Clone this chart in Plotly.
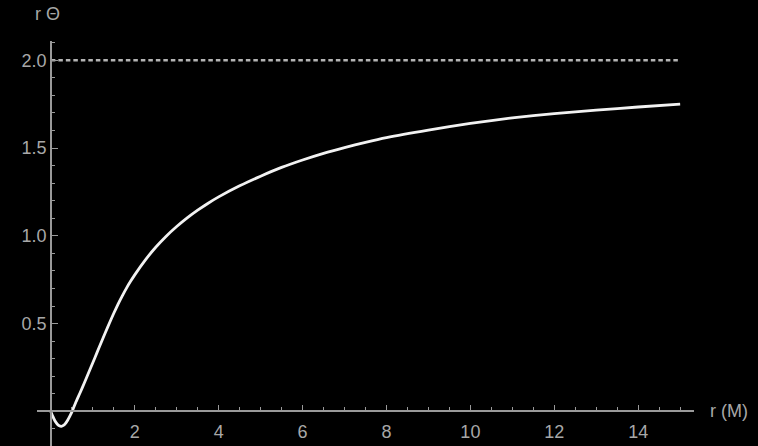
import plotly.graph_objects as go

# r Θ versus r (in units of M)
r_vals = [0.0, 0.05, 0.1, 0.15, 0.2, 0.25, 0.3, 0.35, 0.4, 0.45, 0.5,
          0.6, 0.7, 0.8, 0.9, 1.0, 1.1, 1.2, 1.3, 1.4, 1.5, 1.6, 1.7, 1.8,
          1.9, 2.0, 2.25, 2.5, 2.75, 3.0, 3.25, 3.5, 3.75, 4.0, 4.5, 5.0,
          5.5, 6.0, 6.5, 7.0, 7.5, 8.0, 9.0, 10.0, 11.0, 12.0, 13.0, 14.0,
          15.0]
theta_vals = [0.0, -0.03, -0.055, -0.072, -0.082, -0.085, -0.08, -0.068,
              -0.05, -0.028, -0.004, 0.055, 0.108, 0.163, 0.22, 0.277, 0.335,
              0.393, 0.45, 0.505, 0.559, 0.61, 0.657, 0.701, 0.741, 0.778,
              0.862, 0.935, 0.998, 1.053, 1.102, 1.146, 1.186, 1.222, 1.285,
              1.34, 1.39, 1.432, 1.47, 1.503, 1.533, 1.56, 1.603, 1.641,
              1.672, 1.696, 1.716, 1.734, 1.75]

# horizontal asymptote
asym_r = [0.0, 15.0]
asym_val = [2.0, 2.0]

x_ticks = [2, 4, 6, 8, 10, 12, 14]
y_ticks = [0.5, 1.0, 1.5, 2.0]
y_tick_text = ["0.5", "1.0", "1.5", "2.0"]

x_range = [-0.33, 15.33]
y_range = [-0.197, 2.11]

axis_color = "#9a9a9a"
label_color = "#a8a8a8"
font_family = "Liberation Sans, Arial, sans-serif"
font_size = 18

fig = go.Figure()

fig.add_trace(go.Scatter(
    x=asym_r, y=asym_val, mode="lines",
    line=dict(color="#b4b4b4", width=2.6, dash="4.5px,3px"),
    hoverinfo="skip", showlegend=False,
))

fig.add_trace(go.Scatter(
    x=r_vals, y=theta_vals, mode="lines",
    line=dict(color="#f2f2f2", width=2.8, shape="spline", smoothing=0.6),
    showlegend=False,
))

x_pos = (0 - y_range[0]) / (y_range[1] - y_range[0])
y_pos = (0 - x_range[0]) / (x_range[1] - x_range[0])

fig.update_layout(
    width=758, height=446,
    margin=dict(l=37, r=64, t=41, b=0),
    paper_bgcolor="black", plot_bgcolor="black",
    font=dict(family=font_family, size=font_size, color=label_color),
    xaxis=dict(
        range=x_range, anchor="free", position=x_pos,
        showgrid=False, zeroline=False,
        showline=True, linecolor=axis_color, linewidth=1.5,
        tickmode="array", tickvals=x_ticks, ticktext=[str(v) for v in x_ticks],
        ticks="inside", ticklen=6, tickwidth=1.2, tickcolor=axis_color,
        ticklabelstandoff=4,
        minor=dict(dtick=0.5, tick0=0, ticks="inside", ticklen=3.5,
                   tickwidth=1.1, tickcolor=axis_color, showgrid=False),
        tickfont=dict(size=font_size, color=label_color),
    ),
    yaxis=dict(
        range=y_range, anchor="free", position=y_pos,
        showgrid=False, zeroline=False,
        showline=True, linecolor=axis_color, linewidth=1.5,
        tickmode="array", tickvals=y_ticks, ticktext=y_tick_text,
        ticks="inside", ticklen=6, tickwidth=1.2, tickcolor=axis_color,
        minor=dict(dtick=0.1, tick0=0, ticks="inside", ticklen=3.5,
                   tickwidth=1.1, tickcolor=axis_color, showgrid=False),
        tickfont=dict(size=font_size, color=label_color),
    ),
    annotations=[
        dict(text="r Θ", xref="paper", yref="paper", x=y_pos, y=1,
             xshift=-3, yshift=27, showarrow=False, xanchor="center",
             yanchor="middle", font=dict(size=font_size, color=label_color)),
        dict(text="r (M)", xref="x", yref="y", x=x_range[1], y=0,
             xshift=14, showarrow=False, xanchor="left", yanchor="middle",
             font=dict(size=font_size, color=label_color)),
    ],
)

fig.write_html("out.html")
